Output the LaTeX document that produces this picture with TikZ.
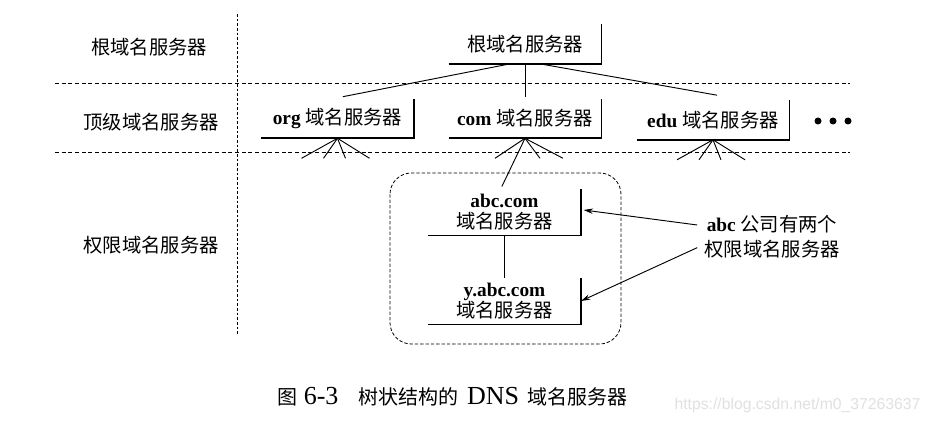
\documentclass[tikz,border=0pt]{standalone}
\usepackage{fontspec}
\setmainfont{Liberation Serif}
\setsansfont{Liberation Sans}
\newfontfamily\cjk{Noto Sans CJK SC}
\usetikzlibrary{arrows.meta}
\newcommand\zhtxt[1]{{\cjk #1}}
\newcommand\zhcap[1]{{\cjk\fontsize{15}{16}\selectfont #1}}

\tikzset{
  srvbox/.style={minimum width=114pt, minimum height=29pt, inner sep=0pt,
    align=center, font=\fontsize{14.5}{15.75}\selectfont},
  bracket/.style={line width=1.2pt},
  lvl/.style={inner sep=0pt, font=\fontsize{14.5}{16}\selectfont},
  sep/.style={line width=0.6pt, dash pattern=on 3pt off 2pt},
  vsep/.style={line width=0.6pt, dash pattern=on 2pt off 1.5pt},
  zone/.style={line width=0.6pt, dash pattern=on 2.5pt off 1.5pt, rounded corners=16pt},
  note/.style={inner sep=5pt, align=center, font=\fontsize{14.5}{19}\selectfont},
  pointer/.style={-{Stealth[length=7pt, width=4pt]}},
  capt/.style={inner sep=0pt, font=\fontsize{19.5}{20}\selectfont},
  wmark/.style={inner sep=0pt, text=black!12, font=\sffamily\fontsize{11.8}{13}\selectfont}
}

\begin{document}
\begin{tikzpicture}[x=0.75pt, y=-0.75pt, line width=0.7pt]
    \useasboundingbox (0,0) rectangle (931,423);

    % level separators
    \draw[sep] (55,83) -- (850,83);
    \draw[sep] (55,152) -- (850,152);
    \draw[vsep] (237,14) -- (237,336);

    % level names
    \node[lvl] (lroot) at (149,47) {\zhtxt{根域名服务器}};
    \node[lvl] (ltld) at (151,122) {\zhtxt{顶级域名服务器}};
    \node[lvl] (lauth) at (151,245) {\zhtxt{权限域名服务器}};

    % servers
    \node[srvbox] (root) at (525,44) {\zhtxt{根域名服务器}};
    \node[srvbox] (org) at (337.5,118.5) {\textbf{org} \zhtxt{域名服务器}};
    \node[srvbox] (com) at (525,118.5) {\textbf{com} \zhtxt{域名服务器}};
    \node[srvbox] (edu) at (713,120) {\textbf{edu} \zhtxt{域名服务器}};
    \node[srvbox, minimum height=34.5pt] (abc) at (504.5,212) {\textbf{abc.com}\\\zhtxt{域名服务器}};
    \node[srvbox, minimum height=34.5pt] (yabc) at (504.5,301) {\textbf{y.abc.com}\\\zhtxt{域名服务器}};

    \foreach \n in {root,org,com,edu,abc,yabc}
        \draw[bracket] (\n.south west) -- (\n.south east) -- (\n.north east);

    % more top level servers
    \foreach \x in {818,833,848}
        \fill (\x,121) circle (3.5);

    % tree links
    \draw ([xshift=-11pt]root.south) -- ([xshift=4pt,yshift=1.5pt]org.north);
    \draw (root.south) -- ([yshift=1.5pt]com.north);
    \draw ([xshift=11pt]root.south) -- ([xshift=3pt,yshift=3.75pt]edu.north);

    \foreach \n in {org,edu}
        \foreach \dx in {-36,-14,8,32}
            \draw (\n.south) -- ++(\dx,20);
    \foreach \dx in {-30,15,38}
        \draw (com.south) -- ++(\dx,20);
    \draw (com.south) -- ([xshift=-2pt,yshift=1.5pt]abc.north);
    \draw (abc.south) -- (yabc.north);

    % abc zone
    \draw[zone] (390,173) rectangle (621,344);

    \node[note] (note) at (772,237) {\textbf{abc} \zhtxt{公司有两个}\\\zhtxt{权限域名服务器}};
    \draw[pointer] ([yshift=9pt]note.west) -- ([xshift=2pt,yshift=1.5pt]abc.east);
    \draw[pointer] ([yshift=-8pt]note.west) -- (yabc.east);

    % caption
    \node[capt] (cap) at (452.5,397) {\zhcap{图}\hspace{4.5pt}6-3\hspace{15pt}\zhcap{树状结构的}\hspace{6.5pt}DNS\hspace{6pt}\zhcap{域名服务器}};
    \node[wmark] (url) at (797.5,405) {https://blog.csdn.net/m0\_37263637};
\end{tikzpicture}
\end{document}
